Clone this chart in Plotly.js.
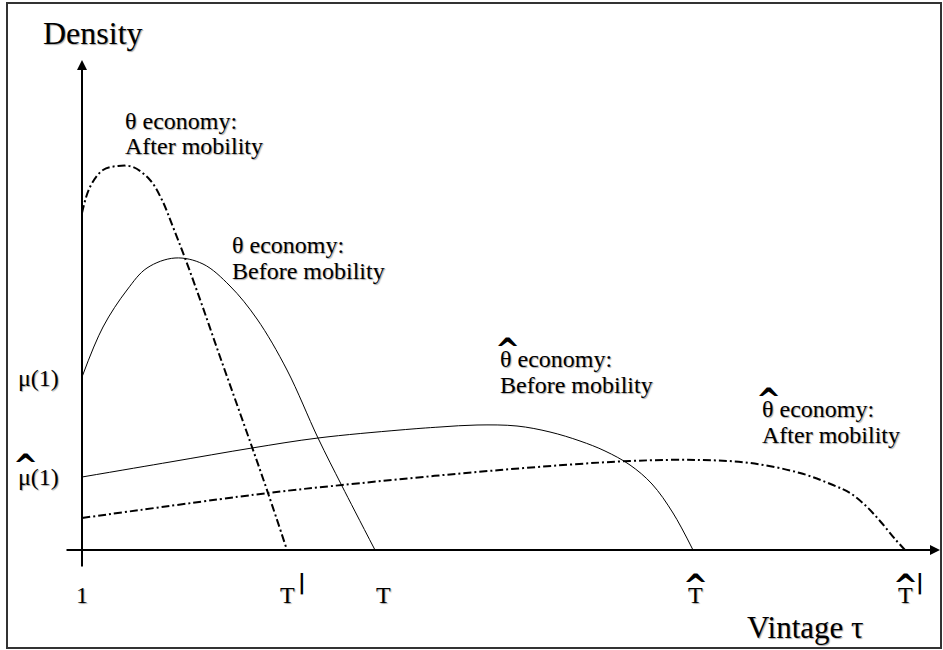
<!DOCTYPE html>
<html><head><meta charset="utf-8">
<script src="https://cdn.plot.ly/plotly-3.0.1.min.js"></script>
<style>html,body{margin:0;padding:0;background:#fff;}</style>
</head><body><div id="chart" style="width:943px;height:650px;"></div>
<script>
// θ economy, after mobility (dash-dot)
const tauThetaAfter  = [1.00, 1.08, 1.21, 1.36, 1.51, 1.68, 1.80, 1.91, 2.03, 2.20, 2.36, 2.53, 2.70, 2.86, 3.05];
const densThetaAfter = [3.37, 3.63, 3.80, 3.84, 3.83, 3.70, 3.50, 3.23, 2.92, 2.45, 1.99, 1.51, 1.03, 0.57, 0.00];
// θ economy, before mobility (solid)
const tauThetaBefore  = [1.00, 1.21, 1.45, 1.65, 1.93, 2.21, 2.48, 2.75, 3.05, 3.36, 3.60, 3.93];
const densThetaBefore = [1.73, 2.23, 2.60, 2.82, 2.92, 2.86, 2.64, 2.31, 1.80, 1.12, 0.64, 0.00];
// θ-hat economy, before mobility (solid)
const tauHatBefore  = [1.00, 1.88, 2.70, 3.36, 4.18, 4.58, 4.95, 5.35, 5.68, 5.98, 6.23, 6.48, 6.70, 6.91, 7.11];
const densHatBefore = [0.73, 0.88, 1.02, 1.12, 1.20, 1.23, 1.25, 1.24, 1.18, 1.09, 0.99, 0.85, 0.66, 0.37, 0.00];
// θ-hat economy, after mobility (dash-dot)
const tauHatAfter  = [1.00, 2.86, 3.60, 5.18, 6.48, 7.18, 7.68, 8.18, 8.51, 8.68, 8.83, 8.98, 9.13, 9.23];
const densHatAfter = [0.32, 0.57, 0.65, 0.80, 0.89, 0.90, 0.87, 0.77, 0.65, 0.57, 0.45, 0.29, 0.11, 0.00];

// tick labels
const xTickVals  = [1.00, 3.05, 4.01, 7.13, 9.23];
const xTickBase  = ["1", "T", "T", "T", "T"];
const xTickHat   = [false, false, false, true, true];
const xTickPrime = [false, true, false, false, true];
const yTickVals  = [1.72, 0.73];
const yTickBase  = ["μ(1)", "μ(1)"];
const yTickHat   = [false, true];

const W = 943, H = 650;
const px = v => v / W;
const py = v => 1 - v / H;
const SERIF = "Liberation Serif";
const SH = "1px 1px 1px rgba(0,0,0,0.35)";
const DD = "8px,3px,2px,3px";
const HATFONT = {family: "DejaVu Sans", size: 30, color: "#000", weight: "bold"};

const traces = [
  {x: tauThetaAfter, y: densThetaAfter, mode: "lines", line: {color: "#000", width: 2, dash: DD, shape: "spline", smoothing: 1}},
  {x: tauThetaBefore, y: densThetaBefore, mode: "lines", line: {color: "#000", width: 1, shape: "spline", smoothing: 1}},
  {x: tauHatBefore, y: densHatBefore, mode: "lines", line: {color: "#000", width: 1, shape: "spline", smoothing: 1}},
  {x: tauHatAfter, y: densHatAfter, mode: "lines", line: {color: "#000", width: 2, dash: DD, shape: "spline", smoothing: 1}}
];

const ann = [];
function txt(t, x, y, size) {
  ann.push({text: t, x: px(x), y: py(y), xref: "paper", yref: "paper",
    xanchor: "left", yanchor: "middle", showarrow: false,
    font: {family: SERIF, size: size, color: "#000", shadow: SH}});
}
function hat(x, y) {
  ann.push({text: "^", x: px(x), y: py(y), xref: "paper", yref: "paper", xanchor: "center", yanchor: "middle",
    showarrow: false, font: HATFONT});
}
// axis titles
txt("Density", 41, 33, 32);
txt("Vintage τ", 745, 627, 31);
// curve labels
txt("θ economy:", 123, 121, 24); txt("After mobility", 123, 146, 24);
txt("θ economy:", 230, 245, 24); txt("Before mobility", 230, 271, 24);
txt("θ economy:", 498, 359, 24); txt("Before mobility", 498, 385, 24); hat(507, 349);
txt("θ economy:", 760, 409, 24); txt("After mobility", 760, 435, 24); hat(768, 399);

// x tick labels
xTickVals.forEach((v, i) => {
  ann.push({text: xTickBase[i], x: v, y: py(595), xref: "x", yref: "paper", xanchor: "center", yanchor: "middle",
    showarrow: false, font: {family: SERIF, size: 24, color: "#000", shadow: SH}});
  if (xTickHat[i]) ann.push({text: "^", x: v, y: py(585), xref: "x", yref: "paper", xanchor: "center", yanchor: "middle",
    showarrow: false, font: HATFONT});
  if (xTickPrime[i]) ann.push({text: "|", x: v, y: py(582), xref: "x", yref: "paper", xanchor: "center", yanchor: "middle",
    xshift: 15, showarrow: false, font: {family: "DejaVu Sans", size: 21, color: "#000", weight: "bold"}});
});
// y tick labels
yTickVals.forEach((v, i) => {
  ann.push({text: yTickBase[i], x: px(16), y: v, xref: "paper", yref: "y", xanchor: "left", yanchor: "middle",
    showarrow: false, font: {family: SERIF, size: 24, color: "#000", shadow: SH}});
  if (yTickHat[i]) ann.push({text: "^", x: px(25), y: v, xref: "paper", yref: "y", xanchor: "center", yanchor: "middle",
    yshift: 12, showarrow: false, font: HATFONT});
});
// axes with arrows
ann.push({text: "", x: 9.58, y: 0, ax: 0.83, ay: 0, xref: "x", yref: "y", axref: "x", ayref: "y",
  showarrow: true, arrowhead: 2, arrowsize: 1, arrowwidth: 2, arrowcolor: "#000", standoff: 0});
ann.push({text: "", x: 1.0, y: 4.9, ax: 1.0, ay: -0.18, xref: "x", yref: "y", axref: "x", ayref: "y",
  showarrow: true, arrowhead: 2, arrowsize: 1, arrowwidth: 2, arrowcolor: "#000", standoff: 0});

const layout = {
  width: W, height: H, margin: {l: 0, r: 0, t: 0, b: 0},
  paper_bgcolor: "#fff", plot_bgcolor: "#fff", showlegend: false,
  xaxis: {range: [0.18, 9.61], visible: false, fixedrange: true},
  yaxis: {range: [-1.0, 5.5], visible: false, fixedrange: true},
  annotations: ann,
  shapes: [{type: "rect", xref: "paper", yref: "paper", x0: px(7), x1: px(941), y0: py(648), y1: py(3),
    line: {color: "#333", width: 2}}]
};
Plotly.newPlot("chart", traces, layout, {staticPlot: true, displayModeBar: false});
</script></body></html>
